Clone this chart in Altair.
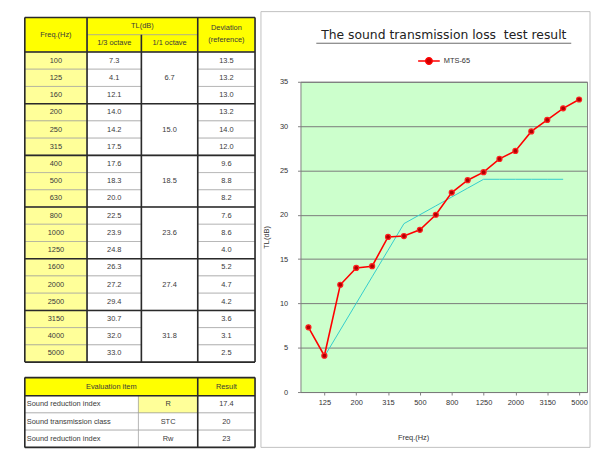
import altair as alt
import pandas as pd

# ---------------- data ----------------
FREQS = ["100", "125", "160", "200", "250", "315", "400", "500", "630",
         "800", "1000", "1250", "1600", "2000", "2500", "3150", "4000", "5000"]
TL_THIRD = [7.3, 4.1, 12.1, 14.0, 14.2, 17.5, 17.6, 18.3, 20.0,
            22.5, 23.9, 24.8, 26.3, 27.2, 29.4, 30.7, 32.0, 33.0]
TL_OCTAVE = [6.7, 15.0, 18.5, 23.6, 27.4, 31.8]
DEVIATION = [13.5, 13.2, 13.0, 13.2, 14.0, 12.0, 9.6, 8.8, 8.2,
             7.6, 8.6, 4.0, 5.2, 4.7, 4.2, 3.6, 3.1, 2.5]
REF_FREQS = ["125", "160", "200", "250", "315", "400", "500", "630",
             "800", "1000", "1250", "1600", "2000", "2500", "3150", "4000"]
REF_CURVE = [4, 7, 10, 13, 16, 19, 20, 21, 22, 23, 24, 24, 24, 24, 24, 24]
SHOWN_LABELS = ["125", "200", "315", "500", "800", "1250", "2000", "3150", "5000"]
SERIES = "MTS-65"
EVAL_ITEMS = ["Sound reduction index", "Sound transmission class", "Sound reduction index"]
EVAL_SYMBOLS = ["R", "STC", "Rw"]
EVAL_RESULTS = ["17.4", "20", "23"]
HEADERS = {"freq": "Freq.(Hz)", "tl": "TL(dB)", "third": "1/3 octave",
           "oct": "1/1 octave", "dev1": "Deviation", "dev2": "(reference)",
           "eval": "Evaluation item", "res": "Result"}
TITLE = "The sound transmission loss\u00a0 test result"

# ---------------- table layout (column edges / row units) ----------------
E = [17, 80, 135, 192, 250]
EB = [17, 132, 192, 250]
B0 = 20.9
YELLOW, PALE, WHITE = "#FFFF00", "#FFFF99", "#FFFFFF"

cells, rules, texts_c, texts_l = [], [], [], []


def cell(x, x2, y, y2, fill):
    cells.append(dict(x=x, x2=x2, y=y, y2=y2, fill=fill))


def rule(x, x2, y, y2):
    rules.append(dict(x=x, x2=x2, y=y, y2=y2))


def txt(cx, cy, s, left=False):
    (texts_l if left else texts_c).append(dict(cx=cx, cy=cy, label=s))


# header
cell(E[0], E[1], 0, 2, YELLOW); txt((E[0] + E[1]) / 2, 1, HEADERS["freq"])
cell(E[1], E[3], 0, 1, YELLOW); txt((E[1] + E[3]) / 2, 0.5, HEADERS["tl"])
cell(E[1], E[2], 1, 2, YELLOW); txt((E[1] + E[2]) / 2, 1.5, HEADERS["third"])
cell(E[2], E[3], 1, 2, YELLOW); txt((E[2] + E[3]) / 2, 1.5, HEADERS["oct"])
cell(E[3], E[4], 0, 2, YELLOW)
txt((E[3] + E[4]) / 2, 0.6, HEADERS["dev1"]); txt((E[3] + E[4]) / 2, 1.3, HEADERS["dev2"])
for i, f in enumerate(FREQS):
    y = 2 + i
    cell(E[0], E[1], y, y + 1, PALE); txt((E[0] + E[1]) / 2, y + 0.5, f)
    cell(E[1], E[2], y, y + 1, WHITE); txt((E[1] + E[2]) / 2, y + 0.5, f"{TL_THIRD[i]:.1f}")
    cell(E[3], E[4], y, y + 1, WHITE); txt((E[3] + E[4]) / 2, y + 0.5, f"{DEVIATION[i]:.1f}")
for g, v in enumerate(TL_OCTAVE):
    y = 2 + 3 * g
    cell(E[2], E[3], y, y + 3, WHITE); txt((E[2] + E[3]) / 2, y + 1.5, f"{v:.1f}")
    rule(E[0], E[4], y, y)
rule(E[0], E[4], 0, 0); rule(E[0], E[4], 20, 20)
for k, xe in enumerate(E):
    rule(xe, xe, 1 if k == 2 else 0, 20)

# evaluation table
cell(EB[0], EB[2], B0, B0 + 1.05, YELLOW); txt((EB[0] + EB[2]) / 2, B0 + 0.52, HEADERS["eval"])
cell(EB[2], EB[3], B0, B0 + 1.05, YELLOW); txt((EB[2] + EB[3]) / 2, B0 + 0.52, HEADERS["res"])
for k in range(3):
    y = B0 + 1.05 + k
    cell(EB[0], EB[1], y, y + 1, WHITE); txt(EB[0] + 2, y + 0.5, EVAL_ITEMS[k], left=True)
    cell(EB[1], EB[2], y, y + 1, PALE if k == 0 else WHITE); txt((EB[1] + EB[2]) / 2, y + 0.5, EVAL_SYMBOLS[k])
    cell(EB[2], EB[3], y, y + 1, WHITE); txt((EB[2] + EB[3]) / 2, y + 0.5, EVAL_RESULTS[k])
rule(EB[0], EB[3], B0, B0); rule(EB[0], EB[3], B0 + 1.05, B0 + 1.05); rule(EB[0], EB[3], B0 + 4.05, B0 + 4.05)
rule(EB[0], EB[0], B0, B0 + 4.05); rule(EB[2], EB[2], B0, B0 + 4.05); rule(EB[3], EB[3], B0, B0 + 4.05)

PW, PH = 290, 314          # plot area of the line chart
TW = 250                   # table panel width
xs = alt.Scale(domain=[0, TW], nice=False, zero=False)
ys = alt.Scale(domain=[0, B0 + 4.05], nice=False, zero=False, range=[-65, 370])

cell_layer = alt.Chart(pd.DataFrame(cells)).mark_rect(stroke="#9a9a9a", strokeWidth=0.6).encode(
    x=alt.X("x:Q", scale=xs, axis=None), x2="x2:Q",
    y=alt.Y("y:Q", scale=ys, axis=None), y2="y2:Q",
    fill=alt.Fill("fill:N", scale=None))
rule_layer = alt.Chart(pd.DataFrame(rules)).mark_rule(color="#2a2a2a", strokeWidth=1.6).encode(
    x=alt.X("x:Q", scale=xs, axis=None), x2="x2:Q",
    y=alt.Y("y:Q", scale=ys, axis=None), y2="y2:Q")
text_c = alt.Chart(pd.DataFrame(texts_c)).mark_text(fontSize=7.5, color="#3a3a3a").encode(
    x=alt.X("cx:Q", scale=xs, axis=None), y=alt.Y("cy:Q", scale=ys, axis=None), text="label:N")
text_l = alt.Chart(pd.DataFrame(texts_l)).mark_text(fontSize=7.5, color="#3a3a3a", align="left").encode(
    x=alt.X("cx:Q", scale=xs, axis=None), y=alt.Y("cy:Q", scale=ys, axis=None), text="label:N")

table = alt.layer(cell_layer, rule_layer, text_c, text_l).properties(
    width=TW, height=PH, view=alt.ViewBackground(strokeWidth=0))

# ---------------- line chart ----------------
line_df = pd.DataFrame({"freq": FREQS, "tl": TL_THIRD, "series": SERIES})
ref_df = pd.DataFrame({"freq": REF_FREQS, "tl": REF_CURVE})
one = pd.DataFrame({"label": [TITLE]})

xenc = alt.X("freq:O", sort=FREQS,
             scale=alt.Scale(type="point", domain=FREQS, padding=0.5),
             axis=alt.Axis(values=SHOWN_LABELS, labelAngle=0, labelFontSize=7.5, labelColor="#333",
                           tickSize=3, tickColor="#808080", domain=False, grid=False, labelPadding=4,
                           title="Freq.(Hz)", titleFontSize=7.5, titleFontWeight="normal",
                           titleColor="#333", titleX=114, titleY=42))
yenc = alt.Y("tl:Q", scale=alt.Scale(domain=[0, 35], nice=False),
             axis=alt.Axis(values=[0, 5, 10, 15, 20, 25, 30, 35], labelFontSize=7.5, labelColor="#333",
                           tickSize=3, tickColor="#808080", domain=False, grid=True,
                           gridColor="#7a7a7a", gridWidth=1, labelPadding=10,
                           title="TL(dB)", titleFontSize=7.5, titleFontWeight="normal", titleColor="#333",
                           titleAngle=270, titleX=-34, titleY=157, titleAlign="center",
                           titleBaseline="middle"))

frame = alt.Chart(one).mark_rect(fill="transparent", stroke="#c0c0c0", strokeWidth=1).encode(
    x=alt.value(-40), x2=alt.value(293), y=alt.value(-71), y2=alt.value(370))
title_text = alt.Chart(one).mark_text(font="DejaVu Sans", fontSize=12.5, color="#222",
                                      align="center", baseline="middle").encode(
    x=alt.value(145), y=alt.value(-47), text="label:N")
underline = alt.Chart(one).mark_rule(color="#444", strokeWidth=0.8).encode(
    x=alt.value(16), x2=alt.value(274), y=alt.value(-39))
ref_line = alt.Chart(ref_df).mark_line(color="#33CCCC", strokeWidth=1).encode(x=xenc, y=yenc)
LEG_PATH = "M-1,0L-0.3,0M0.3,0L1,0M0.3,0A0.3,0.3,0,1,1,-0.3,0A0.3,0.3,0,1,1,0.3,0Z"
red_line = alt.Chart(line_df).mark_line(strokeWidth=1.6).encode(
    x=xenc, y=yenc,
    color=alt.Color("series:N", scale=alt.Scale(range=["#FF0000"]),
                    legend=alt.Legend(title=None, orient="none", legendX=118, legendY=-33,
                                      symbolType=LEG_PATH, symbolSize=480, symbolStrokeWidth=1.5,
                                      symbolFillColor="#CC0000", labelFontSize=7.5,
                                      labelColor="#333", padding=0, labelOffset=3)))
pts = alt.Chart(line_df).mark_circle(size=26, fill="#B00000", stroke="#FF2020",
                                     strokeWidth=1.2, opacity=1).encode(x=xenc, y=yenc)

chart_panel = alt.layer(frame, title_text, underline, ref_line, red_line, pts).properties(
    width=PW, height=PH,
    view=alt.ViewBackground(fill="#CCFFCC", stroke="#808080", strokeWidth=1))

chart = alt.hconcat(table, chart_panel, spacing=4).resolve_scale(
    color="independent").resolve_legend(color="independent").properties(padding=0).configure(
    font="Liberation Sans").configure_view(strokeWidth=0)

chart.save("out.html", embed_options={"renderer": "svg", "actions": False})
